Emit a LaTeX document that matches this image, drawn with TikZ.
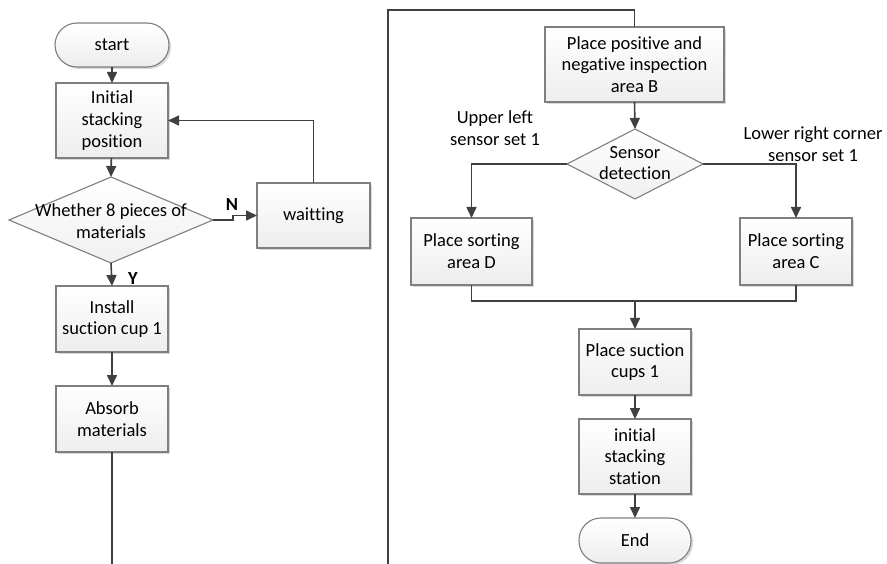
\documentclass[tikz,border=0pt]{standalone}
\usepackage{fontspec}
\setmainfont[Ligatures=NoCommon]{Carlito}
\usetikzlibrary{arrows.meta,shapes.geometric,shadows}
\definecolor{lc}{HTML}{404040}
\definecolor{bc}{HTML}{7F7F7F}
\begin{document}
\begin{tikzpicture}[x=1pt,y=-1pt,
  font=\fontsize{18.5}{21.8}\selectfont,
  every node/.style={inner sep=0pt,outer sep=0pt},
  boxstyle/.style={rectangle,draw=bc,line width=1.1pt,top color=white,bottom color=black!7,
     drop shadow={shadow xshift=2pt,shadow yshift=-2pt,fill=black!25,opacity=0.6},
     align=center},
  termstyle/.style={boxstyle,rounded corners=22pt},
  diastyle/.style={diamond,draw=bc,line width=1.1pt,top color=white,bottom color=black!6},
  txtstyle/.style={align=center},
  lab/.style={align=center,font=\fontsize{18.5}{21.5}\selectfont\bfseries},
  conn/.style={draw=lc,line width=1.6pt},
  arr/.style={conn,-{Triangle[length=11pt,width=10pt]}},
  thin/.style={draw=lc,line width=1.2pt}
]
\useasboundingbox (0,0) rectangle (887,564);

% left column
\node[termstyle,minimum width=114,minimum height=44] (start) at (112,45) {start};
\node[boxstyle,minimum width=112,minimum height=75] (init) at (112,120.5) {Initial\\stacking\\position};
\node[diastyle,minimum width=204,minimum height=86] (d1) at (111,220) {};
\node[txtstyle] (d1t) at (111,221) {Whether 8 pieces of\\materials};
\node[boxstyle,minimum width=113,minimum height=65] (wait) at (313.5,215.5) {waitting};
\node[boxstyle,minimum width=112,minimum height=66] (inst) at (112,319) {Install\\suction cup 1};
\node[boxstyle,minimum width=112,minimum height=66] (abs) at (112,419) {Absorb\\materials};
\coordinate (bl) at (112,564);
\node[lab] (nlab) at (232,205) {N};
\node[lab] (ylab) at (133,279) {Y};

% right column
\coordinate (br) at (388,564);
\coordinate (tr) at (388,10);
\node[boxstyle,minimum width=179,minimum height=75] (B) at (634.5,64.5) {Place positive and\\negative inspection\\area B};
\node[diastyle,minimum width=136,minimum height=70] (d2) at (635,164) {};
\node[txtstyle] (d2t) at (635,163) {Sensor\\detection};
\node[boxstyle,minimum width=121,minimum height=67] (D) at (471.5,251.5) {Place sorting\\area D};
\node[boxstyle,minimum width=112,minimum height=67] (C) at (796,251.5) {Place sorting\\area C};
\coordinate (m) at (635,301);
\node[boxstyle,minimum width=112,minimum height=66] (S) at (635,362) {Place suction\\cups 1};
\node[boxstyle,minimum width=112,minimum height=75] (I) at (635,456.5) {initial\\stacking\\station};
\node[termstyle,minimum width=112,minimum height=45] (E) at (635,540.5) {End};
\node[txtstyle] (ul) at (495,128) {Upper left\\sensor set 1};
\node[txtstyle] (lr) at (813,144) {Lower right corner\\sensor set 1};

% connectors left
\draw[arr] (start) -- (init);
\draw[arr] (init) -- (d1.north);
\draw[arr] (d1.east) -- ++(20,0) |- (wait.west);
\draw[arr] (wait.north) |- (init.east);
\draw[arr] (d1.south) -- (inst.north);
\draw[arr] (inst) -- (abs);
\draw[thin] (abs.south) -- (bl);

% connectors right
\draw[thin] (br) -- (tr) -| (B.north);
\draw[arr] (B.south) -- (d2.north);
\draw[arr] (d2.west) -| (D.north);
\draw[arr] (d2.east) -| (C.north);
\draw[thin] (D.south) |- (m) -| (C.south);
\draw[arr] (m) -- (S.north);
\draw[arr] (S) -- (I);
\draw[arr] (I) -- (E);
\end{tikzpicture}
\end{document}
